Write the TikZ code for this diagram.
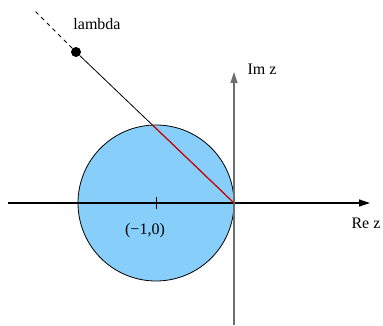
\documentclass[tikz,border=0pt]{standalone}
\usepackage{fontspec}
\setmainfont{Liberation Serif}
\usetikzlibrary{arrows.meta}
\definecolor{diskc}{RGB}{135,206,250}
\definecolor{axisc}{RGB}{110,110,110}
\tikzset{
  axis/.style  = {line width=1.2pt, -{Triangle[length=11pt,width=7pt]}},
  disk/.style  = {draw=black, line width=0.8pt, fill=diskc},
  ray/.style   = {line width=0.8pt, draw=black},
  chord/.style = {line width=1.1pt, draw=red!90!black},
  lbl/.style   = {font=\fontsize{16}{19}\selectfont, inner sep=0pt},
  pt/.style    = {circle, fill=black, minimum size=10pt, inner sep=0pt},
}
\begin{document}
\begin{tikzpicture}[x=1pt,y=-1pt]
\useasboundingbox (0,0) rectangle (383,326);

\coordinate (O) at (234,203);
\coordinate (C) at (156,203);
\coordinate (P) at (152.7,125.1);
\coordinate (far) at (33,9);

% disk |z+1| <= 1
\draw[disk] (C) circle[radius=78];

% axes
\coordinate (xl) at (8,203);
\coordinate (xr) at (370,203);
\coordinate (yb) at (234,325);
\coordinate (yt) at (234,72);
\draw[axis] (xl) -- (xr);
\draw[axis, draw=axisc, fill=black] (yb) -- (yt);

% tick at the centre
\draw[line width=0.9pt] (156,197) -- (156,209);

% ray through lambda
\node[pt] (lam) at (76,52) {};
\draw[ray] (lam) -- (O);
\draw[ray, dashed, dash pattern=on 4pt off 4pt] (lam) -- (far);
\draw[chord] (P) -- (O);

\node[lbl] (lamlbl) at (97,24) {lambda};
\node[lbl] (imlbl) at (262,69) {Im z};
\node[lbl] (relbl) at (366,223) {Re z};
\node[lbl] (ctrlbl) at (145,231) {(−1,0)};

\end{tikzpicture}
\end{document}
